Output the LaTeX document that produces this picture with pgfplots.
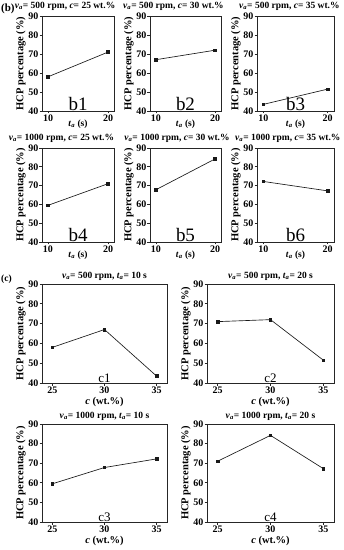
\documentclass[border=0pt]{standalone}
\usepackage{fontspec}
\setmainfont{Liberation Serif}
\usepackage{pgfplots}
\pgfplotsset{compat=1.18}

\pgfplotsset{
  panel/.style={
    scale only axis,
    anchor=south west,
    ymin=40, ymax=90, ytick={40,50,60,70,80,90},
    tick pos=left, tick align=outside,
    major tick length=2.5pt,
    axis line style={line width=0.8pt, black!85},
    every tick/.style={black!85, line width=0.7pt},
    /pgf/number format/assume math mode=true,
    xticklabel={\pgfmathprintnumber{\tick}},
    yticklabel={\pgfmathprintnumber{\tick}},
    tick label style={font=\bfseries\fontsize{10}{10}\selectfont, inner sep=1pt},
    ylabel={HCP percentage (\%)},
    ylabel style={font=\bfseries\fontsize{10.5}{11}\selectfont, yshift=-2pt},
    title style={font=\bfseries\fontsize{9.5}{10}\selectfont, inner sep=1pt, anchor=south, yshift=-1.5pt},
    clip=false,
  },
  bpanel/.style={panel, xmin=9, xmax=21, xtick={10,20},
    xlabel={\textit{t}\textsubscript{\textit{a}} (s)},
    xlabel style={font=\bfseries\fontsize{9.5}{10}\selectfont, yshift=6pt}},
  cpanel/.style={panel, xmin=24, xmax=36, xtick={25,30,35},
    xlabel={\textit{c} (wt.\%)},
    xlabel style={font=\bfseries\fontsize{10.5}{11}\selectfont, yshift=1pt},
    title style={font=\bfseries\fontsize{9.5}{10}\selectfont, at={(0.5,1)}, yshift=-2pt}},
  series/.style={black!90, line width=0.65pt, mark=square*, mark size=1.3pt},
}
\newcommand{\va}{\textit{v}\textsubscript{\textit{a}}}
\newcommand{\ta}{\textit{t}\textsubscript{\textit{a}}}
\newcommand{\blab}[1]{\node[anchor=south, inner sep=0pt, font=\fontsize{19}{19}\selectfont] at (rel axis cs:0.5,0.005) {#1};}
\newcommand{\clab}[1]{\node[anchor=south, inner sep=0pt, font=\fontsize{13}{13}\selectfont] at (rel axis cs:0.5,0.005) {#1};}

\begin{document}
\begin{tikzpicture}
\useasboundingbox (0pt,0pt) rectangle (344pt,550pt);
\node[anchor=west, inner sep=0pt, font=\bfseries\fontsize{11}{11}\selectfont] at (1pt,541pt) {(b)};
\node[anchor=west, inner sep=0pt, font=\bfseries\fontsize{9.5}{9.5}\selectfont] at (1pt,271pt) {(c)};

% ---------- row b top ----------
\begin{axis}[bpanel, at={(42pt,439pt)}, width=72pt, height=95pt,
  title={\va= 500 rpm, \textit{c}= 25 wt.\%}, title style={at={(0.32,1)}}]
\addplot[series] coordinates {(10,58) (20,71)};
\blab{b1}
\end{axis}
\begin{axis}[bpanel, at={(150pt,439pt)}, width=71pt, height=95pt,
  title={\va= 500 rpm, \textit{c}= 30 wt.\%}, title style={at={(0.33,1)}}]
\addplot[series] coordinates {(10,67) (20,72)};
\blab{b2}
\end{axis}
\begin{axis}[bpanel, at={(257pt,439pt)}, width=77pt, height=95pt,
  title={\va= 500 rpm, \textit{c}= 35 wt.\%}, title style={at={(0.42,1)}}]
\addplot[series] coordinates {(10,43.5) (20,51.5)};
\blab{b3}
\end{axis}

% ---------- row b bottom ----------
\begin{axis}[bpanel, at={(42pt,308pt)}, width=72pt, height=94pt,
  title={\va= 1000 rpm, \textit{c}= 25 wt.\%}, title style={at={(0.27,1)}}]
\addplot[series] coordinates {(10,59.5) (20,71)};
\blab{b4}
\end{axis}
\begin{axis}[bpanel, at={(150pt,308pt)}, width=71pt, height=94pt,
  title={\va= 1000 rpm, \textit{c}= 30 wt.\%}, title style={at={(0.38,1)}}]
\addplot[series] coordinates {(10,67.8) (20,84.2)};
\blab{b5}
\end{axis}
\begin{axis}[bpanel, at={(257pt,308pt)}, width=77pt, height=94pt,
  title={\va= 1000 rpm, \textit{c}= 35 wt.\%}, title style={at={(0.4,1)}}]
\addplot[series] coordinates {(10,72.2) (20,67.2)};
\blab{b6}
\end{axis}

% ---------- row c top ----------
\begin{axis}[cpanel, at={(42pt,167pt)}, width=125pt, height=99pt,
  title={\va= 500 rpm, \ta= 10 s}]
\addplot[series] coordinates {(25,58) (30,67) (35,43.5)};
\clab{c1}
\end{axis}
\begin{axis}[cpanel, at={(207pt,167pt)}, width=127pt, height=99pt,
  title={\va= 500 rpm, \ta= 20 s}]
\addplot[series] coordinates {(25,71) (30,72) (35,51.5)};
\clab{c2}
\end{axis}

% ---------- row c bottom ----------
\begin{axis}[cpanel, at={(42pt,28pt)}, width=125pt, height=98pt,
  title={\va= 1000 rpm, \ta= 10 s}]
\addplot[series] coordinates {(25,59.5) (30,67.8) (35,72.2)};
\clab{c3}
\end{axis}
\begin{axis}[cpanel, at={(207pt,28pt)}, width=127pt, height=98pt,
  title={\va= 1000 rpm, \ta= 20 s}]
\addplot[series] coordinates {(25,71) (30,84.2) (35,67.2)};
\clab{c4}
\end{axis}
\end{tikzpicture}
\end{document}
